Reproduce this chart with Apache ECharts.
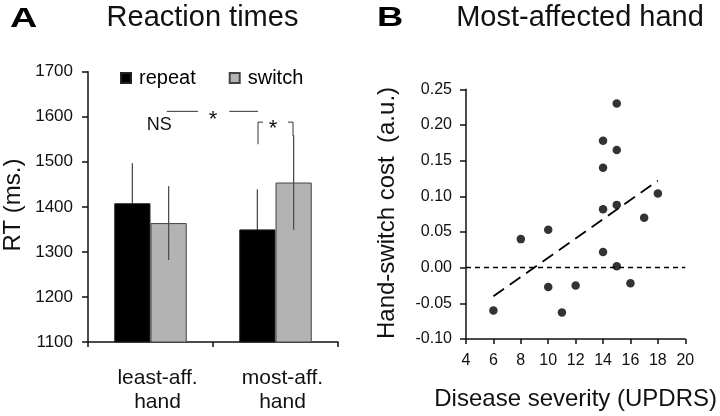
<!DOCTYPE html>
<html>
<head>
<meta charset="utf-8">
<script src="https://cdn.jsdelivr.net/npm/echarts@6/dist/echarts.min.js"></script>
<style>html,body{margin:0;padding:0;background:#fff}#main{width:720px;height:416px}</style>
</head>
<body>
<div id="main"></div>
<script>
// ---- Panel A data ----
const categories = ['least-aff.\nhand', 'most-aff.\nhand'];
const repeatRT = [1408, 1350];
const switchRT = [1364, 1454];
const repeatErr = [89, 89];
const switchErr = [82, 105];
const rtTicks = [1100, 1700, 100];

// ---- Panel B data ----
const severity = [6, 8, 10, 10, 11, 12, 14, 14, 14, 14, 15, 15, 15, 15, 16, 17, 18];
const cost = [-0.06, 0.04, 0.053, -0.027, -0.063, -0.025, 0.178, 0.14, 0.082, 0.022, 0.23, 0.165, 0.088, 0.002, -0.022, 0.07, 0.104];
const trendX = [6, 18];
const trendY = [-0.04, 0.122];
const severityTicks = [4, 20, 2];
const costTicks = [-0.1, 0.25, 0.05];

const FONT = 'Liberation Sans, Arial, Helvetica, sans-serif';
const AX = '#111';

function errData(vals, errs) {
  return vals.map((v, i) => [i, v - errs[i], v + errs[i]]);
}
function errSeries(name, vals, errs, sign, z) {
  return {
    type: 'custom', name: name + '_err', xAxisIndex: 0, yAxisIndex: 0, z: z,
    data: errData(vals, errs), encode: { x: 0, y: [1, 2] },
    renderItem: function (params, api) {
      const band = api.size([1, 0])[0];
      const off = sign * band * 0.145;
      const p1 = api.coord([api.value(0), api.value(1)]);
      const p2 = api.coord([api.value(0), api.value(2)]);
      return { type: 'line', shape: { x1: p1[0] + off, y1: p1[1], x2: p2[0] + off, y2: p2[1] },
               style: { stroke: '#4d4d4d', lineWidth: 1.3 } };
    }
  };
}

const option = {
  animation: false,
  textStyle: { fontFamily: FONT },
  legend: {
    left: 115, top: 63, itemWidth: 10, itemHeight: 10, itemGap: 33, icon: 'rect',
    data: ['repeat', 'switch'],
    textStyle: { fontSize: 20, color: '#000', fontFamily: FONT, padding: [0, 0, 0, 3] }
  },
  grid: [
    { left: 88, top: 71.7, width: 250, height: 270.3 },
    { left: 466, top: 89.3, width: 244, height: 252 }
  ],
  xAxis: [
    { type: 'category', gridIndex: 0, data: categories,
      axisLine: { show: true, onZero: false, lineStyle: { color: AX, width: 1.5 } },
      axisTick: { show: true, length: 5, alignWithLabel: false, lineStyle: { color: AX, width: 1.5 } },
      axisLabel: { fontSize: 21, color: '#111', fontFamily: FONT, lineHeight: 24, margin: 24, padding: [0, 0, 0, 14] } },
    { type: 'value', gridIndex: 1, min: severityTicks[0], max: severityTicks[1], interval: severityTicks[2],
      axisLine: { show: true, onZero: false, lineStyle: { color: AX, width: 1.5 } },
      axisTick: { show: true, length: 5, lineStyle: { color: AX, width: 1.5 } },
      splitLine: { show: false },
      axisLabel: { fontSize: 16, color: '#111', fontFamily: FONT, margin: 14 },
      name: 'Disease severity (UPDRS)', nameLocation: 'middle', nameGap: 48,
      nameTextStyle: { fontSize: 24, color: '#111', fontFamily: FONT } }
  ],
  yAxis: [
    { type: 'value', gridIndex: 0, min: rtTicks[0], max: rtTicks[1], interval: rtTicks[2],
      axisLine: { show: true, onZero: false, lineStyle: { color: AX, width: 1.5 } },
      axisTick: { show: true, length: 6, lineStyle: { color: AX, width: 1.5 } },
      splitLine: { show: false },
      axisLabel: { fontSize: 17, color: '#111', fontFamily: FONT, margin: 15, formatter: v => String(v) } },
    { type: 'value', gridIndex: 1, min: costTicks[0], max: costTicks[1], interval: costTicks[2],
      axisLine: { show: true, onZero: false, lineStyle: { color: AX, width: 1.5 } },
      axisTick: { show: true, length: 6, lineStyle: { color: AX, width: 1.5 } },
      splitLine: { show: false },
      axisLabel: { fontSize: 16, color: '#111', fontFamily: FONT, margin: 14,
        formatter: v => v.toFixed(2) } }
  ],
  series: [
    { type: 'bar', name: 'repeat', xAxisIndex: 0, yAxisIndex: 0, data: repeatRT, z: 3,
      barWidth: '29%', barGap: '0%',
      itemStyle: { color: '#000', borderColor: '#222', borderWidth: 1 } },
    { type: 'bar', name: 'switch', xAxisIndex: 0, yAxisIndex: 0, data: switchRT, z: 3,
      barWidth: '29%', barGap: '0%',
      itemStyle: { color: '#b3b3b3', borderColor: '#444', borderWidth: 1 } },
    errSeries('repeat', repeatRT, repeatErr, -1, 1),
    errSeries('switch', switchRT, switchErr, 1, 5),
    { type: 'scatter', xAxisIndex: 1, yAxisIndex: 1, symbolSize: 8.5,
      data: severity.map((s, i) => [s, cost[i]]),
      itemStyle: { color: '#000' },
      markLine: { silent: true, symbol: ['none', 'none'], label: { show: false },
        lineStyle: { color: '#000', type: [5, 4], width: 1.3 },
        data: [{ yAxis: 0 }] } },
    { type: 'line', xAxisIndex: 1, yAxisIndex: 1, symbol: 'none',
      data: trendX.map((x, i) => [x, trendY[i]]),
      lineStyle: { color: '#000', width: 1.8, type: [13, 7] } }
  ]
};

const chart = echarts.init(document.getElementById('main'));
chart.setOption(option);

// significance annotations (in category / RT units)
const sigLineRT = 1612;
const nsRT = 1581, starRT = 1592;
const bracketTopRT = 1588, bracketLeftEndRT = 1539, bracketRightEndRT = 1557, bracketStarRT = 1573;

const c0 = chart.convertToPixel({ xAxisIndex: 0 }, 0);
const c1 = chart.convertToPixel({ xAxisIndex: 0 }, 1);
const band = c1 - c0;
const X = f => c0 + f * band;
const Y = v => chart.convertToPixel({ yAxisIndex: 0 }, v);
const lineStyle = { stroke: '#333', lineWidth: 1, fill: null };

chart.setOption({
  graphic: [
    { type: 'text', x: 10, y: 19.5, scaleX: 1.35, style: { text: 'A', font: 'bold 28px ' + FONT, fill: '#000', verticalAlign: 'middle' } },
    { type: 'text', x: 202.5, y: 18, style: { text: 'Reaction times', font: '29px ' + FONT, fill: '#111', align: 'center', verticalAlign: 'middle' } },
    { type: 'text', x: 377, y: 18.5, scaleX: 1.3, style: { text: 'B', font: 'bold 28px ' + FONT, fill: '#000', verticalAlign: 'middle' } },
    { type: 'text', x: 580, y: 18, style: { text: 'Most-affected hand', font: '29px ' + FONT, fill: '#111', align: 'center', verticalAlign: 'middle' } },
    { type: 'text', x: 13, y: 205, rotation: Math.PI / 2, style: { text: 'RT (ms.)', font: '24px ' + FONT, fill: '#111', align: 'center', verticalAlign: 'middle' } },
    { type: 'text', x: 387, y: 213, rotation: Math.PI / 2, style: { text: 'Hand-switch cost  (a.u.)', font: '24px ' + FONT, fill: '#111', align: 'center', verticalAlign: 'middle' } },
    { type: 'text', x: X(0.07), y: Y(nsRT), style: { text: 'NS', font: '18px ' + FONT, fill: '#111', align: 'center', verticalAlign: 'middle' } },
    { type: 'line', shape: { x1: X(0.13), y1: Y(sigLineRT), x2: X(0.38), y2: Y(sigLineRT) }, style: lineStyle },
    { type: 'text', x: X(0.5), y: Y(starRT), style: { text: '*', font: '22px ' + FONT, fill: '#111', align: 'center', verticalAlign: 'middle' } },
    { type: 'line', shape: { x1: X(0.63), y1: Y(sigLineRT), x2: X(0.86), y2: Y(sigLineRT) }, style: lineStyle },
    { type: 'polyline', shape: { points: [[X(0.86), Y(bracketLeftEndRT)], [X(0.86), Y(bracketTopRT)], [X(0.9), Y(bracketTopRT)]] }, style: lineStyle },
    { type: 'polyline', shape: { points: [[X(1.1), Y(bracketTopRT)], [X(1.14), Y(bracketTopRT)], [X(1.14), Y(bracketRightEndRT)]] }, style: lineStyle },
    { type: 'text', x: X(0.98), y: Y(bracketStarRT), style: { text: '*', font: '22px ' + FONT, fill: '#111', align: 'center', verticalAlign: 'middle' } }
  ]
});
</script>
</body>
</html>
